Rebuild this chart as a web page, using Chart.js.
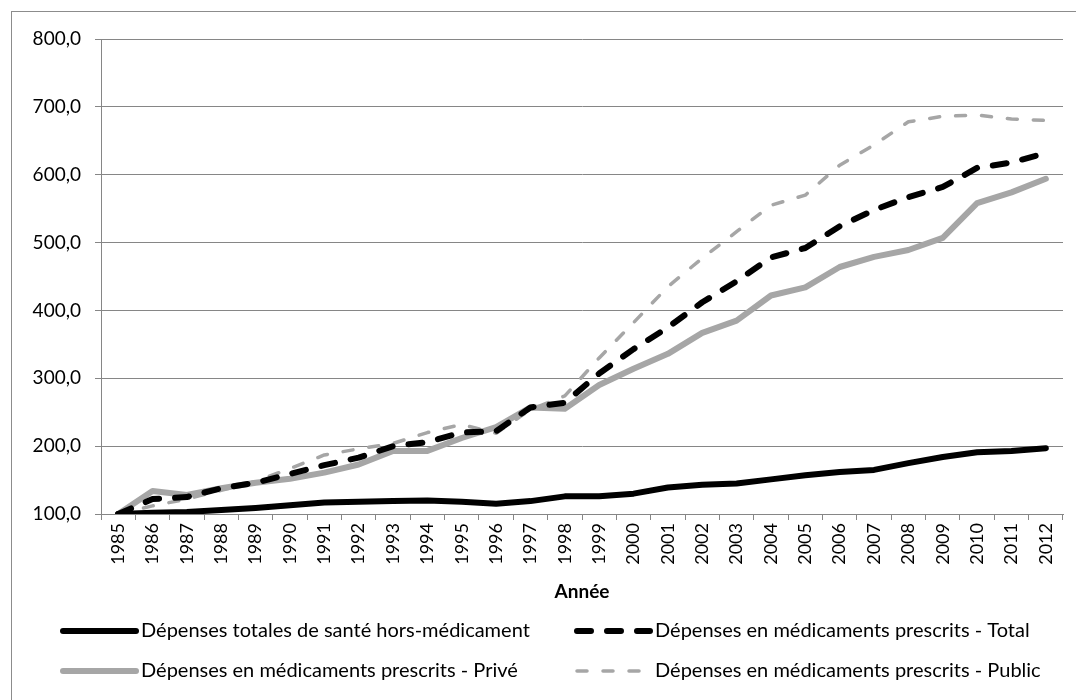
<!DOCTYPE html>
<html>
<head>
<meta charset="utf-8">
<script src="https://cdn.jsdelivr.net/npm/chart.js@4"></script>
<style>
  html, body { margin: 0; padding: 0; background: #fff; }
  #wrap { position: relative; width: 1076px; height: 700px; overflow: hidden; }
  #frame { position: absolute; left: 11px; top: 11px; width: 1200px; height: 800px; border: 1px solid #8c8c8c; }
  canvas { position: absolute; left: 0; top: 0; }
</style>
</head>
<body>
<div id="wrap">
  <div id="frame"></div>
  <canvas id="chart" width="1076" height="700"></canvas>
</div>
<script>
// Index 1985 = 100
const years = ['1985', '1986', '1987', '1988', '1989', '1990', '1991', '1992', '1993', '1994',
  '1995', '1996', '1997', '1998', '1999', '2000', '2001', '2002', '2003', '2004',
  '2005', '2006', '2007', '2008', '2009', '2010', '2011', '2012'];

const horsMedicament = [100, 102, 103, 106, 109, 113, 117, 118, 119, 120, 118, 115, 119, 126,
  126, 130, 139, 143, 145, 151, 157, 162, 165, 175, 184, 191, 193, 197];

const medicTotal = [100, 122, 125, 138, 146, 159, 172, 183, 200, 206, 220, 222, 257, 264,
  307, 343, 375, 412, 443, 478, 492, 524, 548, 567, 582, 610, 618, 632];

const medicPrive = [100, 134, 128, 138, 146, 152, 161, 173, 193, 193, 212, 228, 257, 255,
  290, 314, 336, 367, 385, 422, 434, 464, 479, 489, 507, 558, 574, 594];

const medicPublic = [100, 112, 122, 135, 148, 167, 187, 196, 204, 220, 232, 219, 254, 274,
  330, 382, 435, 477, 516, 555, 570, 614, 644, 678, 686, 688, 682, 680];

const yTicks = [100, 200, 300, 400, 500, 600, 700, 800];

const FONT = 'Lato';
const GRID = '#868686';
const GREY = '#a6a6a6';

// legend laid out as a 2x2 grid under the axis title
const legendSlots = [
  { x: 63, y: 631 }, { x: 577, y: 631 },
  { x: 63, y: 671 }, { x: 577, y: 671 }
];

const gridLegend = {
  id: 'gridLegend',
  afterDraw(chart) {
    const ctx = chart.ctx;
    chart.data.datasets.forEach((ds, i) => {
      const slot = legendSlots[i];
      ctx.save();
      ctx.strokeStyle = ds.borderColor;
      ctx.lineWidth = ds.borderWidth;
      ctx.lineCap = ds.borderCapStyle;
      ctx.setLineDash(ds.borderDash || []);
      ctx.beginPath();
      ctx.moveTo(slot.x, slot.y);
      ctx.lineTo(slot.x + 73, slot.y);
      ctx.stroke();
      ctx.setLineDash([]);
      ctx.fillStyle = '#000';
      ctx.font = `20px ${FONT}`;
      ctx.textBaseline = 'middle';
      ctx.fillText(ds.label, slot.x + 78, slot.y);
      ctx.restore();
    });
  }
};

function makeLine(label, data, color, width, dash) {
  return {
    label,
    data,
    borderColor: color,
    backgroundColor: color,
    borderWidth: width,
    borderDash: dash,
    borderCapStyle: 'round',
    borderJoinStyle: 'round',
    pointRadius: 0,
    pointHoverRadius: 0,
    tension: 0,
    fill: false
  };
}

new Chart(document.getElementById('chart'), {
  type: 'line',
  data: {
    labels: years,
    datasets: [
      makeLine('Dépenses totales de santé hors-médicament', horsMedicament, '#000', 6, []),
      makeLine('Dépenses en médicaments prescrits - Total', medicTotal, '#000', 6, [14, 16]),
      makeLine('Dépenses en médicaments prescrits - Privé', medicPrive, GREY, 6, []),
      makeLine('Dépenses en médicaments prescrits - Public', medicPublic, GREY, 3.5, [10, 16])
    ]
  },
  options: {
    responsive: false,
    animation: false,
    layout: { padding: { left: 0, right: 13, top: 39, bottom: 97 } },
    plugins: {
      legend: { display: false },
      tooltip: { enabled: false }
    },
    scales: {
      x: {
        offset: true,
        afterFit: s => { s.height = 89; },
        grid: { offset: true, drawOnChartArea: false, color: GRID, tickLength: 6 },
        border: { color: GRID },
        ticks: {
          color: '#000',
          font: { family: FONT, size: 18 },
          minRotation: 90,
          maxRotation: 90,
          autoSkip: false,
          padding: 3
        },
        title: {
          display: true,
          text: 'Année',
          color: '#000',
          font: { family: FONT, size: 19, weight: 'bold' },
          padding: { top: 4, bottom: 0 }
        }
      },
      y: {
        min: yTicks[0],
        max: yTicks[yTicks.length - 1],
        afterFit: s => { s.width = 101; },
        afterBuildTicks: s => { s.ticks = yTicks.map(v => ({ value: v })); },
        grid: { color: GRID, tickLength: 6 },
        border: { color: GRID },
        ticks: {
          color: '#000',
          font: { family: FONT, size: 19 },
          padding: 14,
          callback: v => v.toFixed(1).replace('.', ',')
        }
      }
    }
  },
  plugins: [gridLegend]
});
</script>
</body>
</html>
